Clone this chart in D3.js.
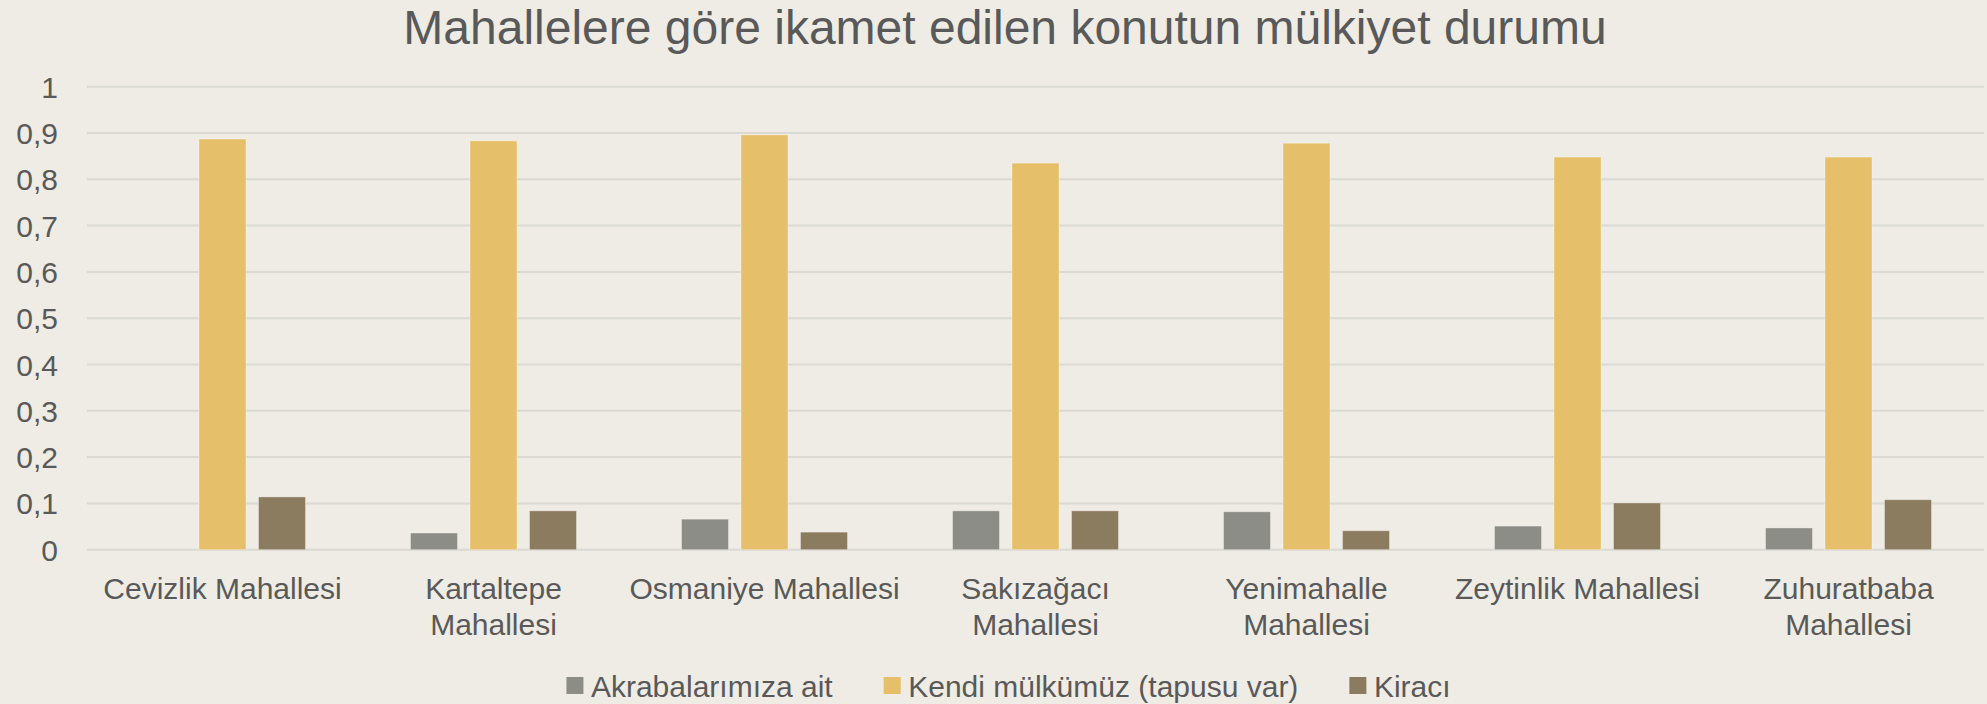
<!DOCTYPE html>
<html>
<head>
<meta charset="utf-8">
<script src="https://cdn.jsdelivr.net/npm/d3@7"></script>
<style>
  html, body { margin: 0; padding: 0; background: #EEECE4; }
  svg { display: block; font-family: "Liberation Sans", Arial, sans-serif; }
</style>
</head>
<body>
<script>
// mahalleler (x axis)
const categories = [
  "Cevizlik Mahallesi",
  "Kartaltepe Mahallesi",
  "Osmaniye Mahallesi",
  "Sakızağacı Mahallesi",
  "Yenimahalle Mahallesi",
  "Zeytinlik Mahallesi",
  "Zuhuratbaba Mahallesi"
];

const series = ["Akrabalarımıza ait", "Kendi mülkümüz (tapusu var)", "Kiracı"];

// values (share of households)
const akrabalarimizaAit = [null, 0.036, 0.066, 0.084, 0.082, 0.051, 0.047];
const kendiMulkumuz    = [0.887, 0.883, 0.896, 0.835, 0.878, 0.848, 0.848];
const kiraci           = [0.114, 0.084, 0.038, 0.084, 0.041, 0.101, 0.108];

const yTicks = [0, 0.1, 0.2, 0.3, 0.4, 0.5, 0.6, 0.7, 0.8, 0.9, 1];

const colors = ["#8D8D87", "#E5BF69", "#8B7B5F"];

const width = 1987, height = 704;
const textColor = "#595959";

const data = categories.map((c, i) => ({
  name: c,
  values: [akrabalarimizaAit[i], kendiMulkumuz[i], kiraci[i]]
}));

const svg = d3.select("body").append("svg")
    .attr("width", width)
    .attr("height", height);

svg.append("rect")
    .attr("width", width)
    .attr("height", height)
    .attr("fill", "#EEECE4");

const x0 = d3.scaleBand()
    .domain(categories)
    .range([87, 1984]);

const x1 = d3.scaleBand()
    .domain(series)
    .range([0, 166])
    .paddingInner(0.21);

const y = d3.scaleLinear()
    .domain([0, 1])
    .range([549.7, 86.7]);

const fmt = d3.formatLocale({decimal: ",", thousands: ".", grouping: [3], currency: ["", "₺"]}).format(".1~f");

// title
svg.append("text")
    .attr("x", 1005)
    .attr("y", 44)
    .attr("text-anchor", "middle")
    .attr("fill", textColor)
    .style("font-size", "48px")
    .text("Mahallelere göre ikamet edilen konutun mülkiyet durumu");

// gridlines
svg.append("g")
  .selectAll("line")
  .data(yTicks)
  .join("line")
    .attr("x1", x0.range()[0])
    .attr("x2", x0.range()[1])
    .attr("y1", d => y(d))
    .attr("y2", d => y(d))
    .attr("stroke", "#DAD9D4")
    .attr("stroke-width", 2);

// y axis labels
const yAxis = svg.append("g")
    .attr("transform", "translate(58,0)")
    .call(d3.axisLeft(y).tickValues(yTicks).tickFormat(fmt).tickSize(0).tickPadding(0));
yAxis.select(".domain").remove();
yAxis.selectAll("text")
    .attr("fill", textColor)
    .attr("dy", "0.35em")
    .style("font-size", "30px")
    .style("font-family", "\"Liberation Sans\", Arial, sans-serif");

// bars
const groups = svg.append("g")
  .selectAll("g")
  .data(data)
  .join("g")
    .attr("transform", d => `translate(${x0(d.name) + x0.bandwidth() / 2 - 83},0)`);

groups.selectAll("rect")
  .data(d => d.values.map((v, j) => ({key: series[j], value: v, j})).filter(e => e.value != null))
  .join("rect")
    .attr("x", d => x1(d.key))
    .attr("width", x1.bandwidth())
    .attr("y", d => y(d.value))
    .attr("height", d => y(0) - y(d.value))
    .attr("fill", d => colors[d.j])
    .attr("stroke", "#ffffff")
    .attr("stroke-opacity", 0.35)
    .attr("stroke-width", 1);

// category labels (wrapped to the band width)
const xAxis = svg.append("g")
    .attr("transform", `translate(0,${y(0)})`)
    .call(d3.axisBottom(x0).tickSize(0).tickPadding(0));
xAxis.select(".domain").remove();
xAxis.selectAll("text")
    .attr("fill", textColor)
    .attr("y", 0)
    .attr("dy", 0)
    .style("font-size", "30px")
    .style("font-family", "\"Liberation Sans\", Arial, sans-serif")
    .each(function(d) {
      const t = d3.select(this);
      t.text(null);
      const words = d.split(" ");
      const probe = t.append("tspan").text(d);
      const w = probe.node().getComputedTextLength();
      probe.remove();
      const lines = w > x0.bandwidth() ? [words.slice(0, -1).join(" "), words[words.length - 1]] : [d];
      lines.forEach((ln, k) => {
        t.append("tspan")
            .attr("x", 0)
            .attr("y", 49 + k * 36)
            .text(ln);
      });
    });

// legend
const legend = svg.append("g");
let lx = 0;
series.forEach((s, i) => {
  const item = legend.append("g").attr("transform", `translate(${lx},0)`);
  item.append("rect")
      .attr("x", 0)
      .attr("y", 677)
      .attr("width", 17)
      .attr("height", 17)
      .attr("fill", colors[i]);
  const t = item.append("text")
      .attr("x", 24.5)
      .attr("y", 686)
      .attr("dy", "0.35em")
      .attr("fill", textColor)
      .style("font-size", "30px")
      .text(s);
  lx += 24.5 + t.node().getComputedTextLength() + 51;
});
const legendWidth = lx - 51;
legend.attr("transform", `translate(${1008.5 - legendWidth / 2},0)`);
</script>
</body>
</html>
